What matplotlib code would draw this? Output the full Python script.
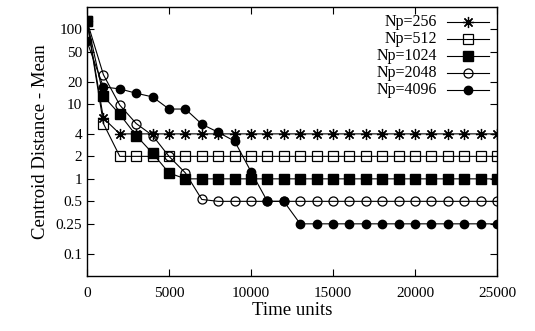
import matplotlib
matplotlib.use("Agg")
import matplotlib.pyplot as plt

plt.rcParams["font.family"] = ["Liberation Serif", "DejaVu Serif"]

# czas (co 1000 jednostek)
czas = [i * 1000 for i in range(26)]

np256 = [130, 6.5] + [4] * 24
np512 = [130, 5.5] + [2] * 24
np1024 = [130, 12.8, 7.3, 3.8, 2.2, 1.2] + [1] * 20
np2048 = [130, 24.8, 9.7, 5.5, 3.8, 2.0, 1.2, 0.53] + [0.5] * 18
np4096 = [69, 17, 16, 14, 12.5, 8.6, 8.6, 5.4, 4.2, 3.2, 1.25, 0.5, 0.5] + [0.25] * 13

etykiety = ["Np=256", "Np=512", "Np=1024", "Np=2048", "Np=4096"]
serie = [np256, np512, np1024, np2048, np4096]

y_ticks = [0.1, 0.25, 0.5, 1, 2, 4, 10, 20, 50, 100]
y_labels = ["0.1", "0.25", "0.5", "1", "2", "4", "10", "20", "50", "100"]
x_ticks = [0, 5000, 10000, 15000, 20000, 25000]

# styl markerów w stylu gnuplota
style = [
    dict(marker=(8, 2, 0), markersize=8, markerfacecolor="none", markeredgewidth=0.9),
    dict(marker="s", markersize=6.5, markerfacecolor="none", markeredgewidth=0.9),
    dict(marker="s", markersize=6.5, markerfacecolor="black"),
    dict(marker="o", markersize=6.5, markerfacecolor="none", markeredgewidth=0.9),
    dict(marker="o", markersize=6, markerfacecolor="black"),
]

fig = plt.figure(figsize=(5.35, 3.31), dpi=100)
ax = fig.add_axes([0.1626, 0.166, 0.7664, 0.813])

for wartosci, st in zip(serie, style):
    ax.plot(czas, wartosci, color="black", lw=0.8, markeredgecolor="black", **st)

ax.set_yscale("log")
ax.set_ylim(0.05, 200)
ax.set_xlim(0, 25000)
ax.set_yticks(y_ticks)
ax.set_yticklabels(y_labels)
ax.minorticks_off()
ax.set_xticks(x_ticks)
ax.tick_params(direction="in", top=True, right=True, length=5, width=0.8, labelsize=11)
ax.tick_params(axis="x", pad=8)
for s in ax.spines.values():
    s.set_linewidth(1.0)

ax.set_xlabel("Time units", fontsize=13.5, labelpad=1)
ax.set_ylabel("Centroid Distance - Mean", fontsize=13.5, labelpad=5)

# legenda recznie (etykiety wyrownane do prawej jak w gnuplocie)
for i, (lab, st) in enumerate(zip(etykiety, style)):
    y = 0.945 - i * 0.0635
    ax.text(0.854, y, lab, transform=ax.transAxes, ha="right", va="center", fontsize=11.5)
    ax.plot([0.878, 0.980], [y, y], transform=ax.transAxes, color="black", lw=0.8)
    ax.plot([0.929], [y], transform=ax.transAxes, color="black",
            markeredgecolor="black", **st)

fig.savefig("out.png", dpi=100)
